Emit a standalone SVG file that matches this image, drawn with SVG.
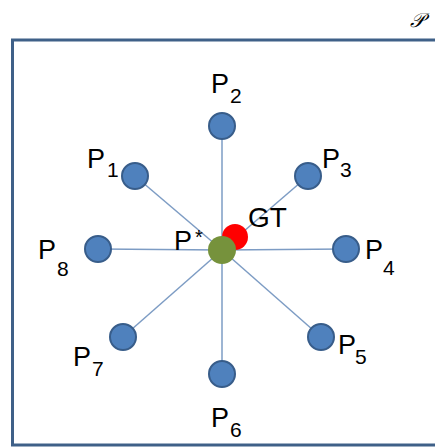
<svg xmlns="http://www.w3.org/2000/svg" width="435" height="447" viewBox="0 0 435 447">
<style>
.n{fill:#4f81bd;stroke:#385d8a;stroke-width:2}
.l{stroke:#7d9cc4;stroke-width:1.5;fill:none}
.t{font-family:"Liberation Sans",Arial,sans-serif;font-size:27px;fill:#000}
.s{font-size:21px}
</style>
<rect width="435" height="447" fill="#fff"/>
<rect x="12.5" y="40" width="440" height="405" fill="none" stroke="#3f6088" stroke-width="3"/>
<text x="410" y="27" font-family="'DejaVu Serif','Noto Sans',serif" font-style="italic" font-size="20">𝒫</text>
<g id="connectors">
<line class="l" x1="222" y1="250" x2="222" y2="126"/>
<line class="l" x1="222" y1="250" x2="135" y2="176"/>
<line class="l" x1="222" y1="250" x2="308" y2="176"/>
<line class="l" x1="222" y1="250" x2="98" y2="249"/>
<line class="l" x1="222" y1="250" x2="346" y2="249"/>
<line class="l" x1="222" y1="250" x2="123" y2="337"/>
<line class="l" x1="222" y1="250" x2="321" y2="337"/>
<line class="l" x1="222" y1="250" x2="222" y2="374"/>
</g>
<g id="P2"><circle class="n" cx="222" cy="126" r="13"/><text class="t" x="211" y="93">P<tspan class="s" x="230" y="103">2</tspan></text></g>
<g id="P1"><circle class="n" cx="135" cy="176" r="13"/><text class="t" x="87" y="168">P<tspan class="s" x="107" y="177">1</tspan></text></g>
<g id="P3"><circle class="n" cx="308" cy="176" r="13"/><text class="t" x="322" y="168">P<tspan class="s" x="340" y="177">3</tspan></text></g>
<g id="P8"><circle class="n" cx="98" cy="249" r="13"/><text class="t" x="38" y="259">P<tspan class="s" x="57" y="276">8</tspan></text></g>
<g id="P4"><circle class="n" cx="346" cy="249" r="13"/><text class="t" x="365" y="259">P<tspan class="s" x="383" y="275">4</tspan></text></g>
<g id="P7"><circle class="n" cx="123" cy="337" r="13"/><text class="t" x="73" y="366">P<tspan class="s" x="92" y="376">7</tspan></text></g>
<g id="P5"><circle class="n" cx="321" cy="337" r="13"/><text class="t" x="338" y="354">P<tspan class="s" x="355" y="364">5</tspan></text></g>
<g id="P6"><circle class="n" cx="222" cy="374" r="13"/><text class="t" x="211" y="427">P<tspan class="s" x="230" y="437">6</tspan></text></g>
<g id="GT"><circle cx="235" cy="237" r="13" fill="#ff0000"/><text class="t" x="248" y="227" style="font-size:28px">GT</text></g>
<g id="Pstar"><circle cx="222" cy="250" r="14" fill="#76923c"/><text class="t" x="174" y="250">P<tspan class="s" x="195" y="244" style="font-size:20px">*</tspan></text></g>
</svg>
